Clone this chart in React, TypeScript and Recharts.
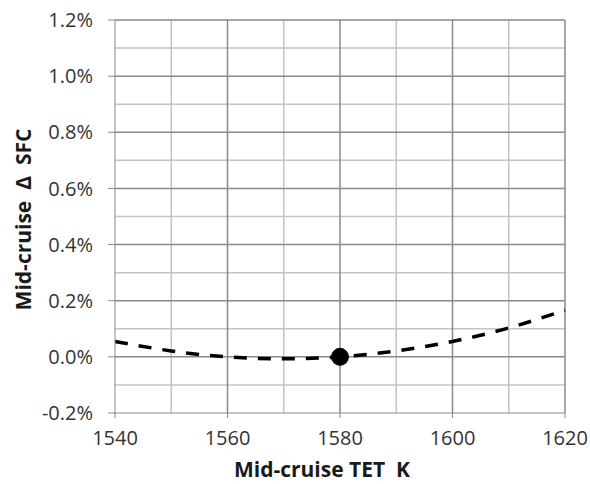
import React from "react";
import {
  LineChart,
  Line,
  XAxis,
  YAxis,
  ReferenceLine,
  ReferenceDot,
  Label,
} from "recharts";

// mid-cruise TET (K) vs change in SFC (%)
const tet = [1540, 1550, 1560, 1570, 1580, 1590, 1600, 1610, 1620];
const dSfc = [0.055, 0.021, 0.0, -0.007, 0.0, 0.021, 0.055, 0.103, 0.166];

const xTicks = [1540, 1560, 1580, 1600, 1620];
const xMinor = [1550, 1570, 1590, 1610];
const yTicks = [-0.2, 0, 0.2, 0.4, 0.6, 0.8, 1.0, 1.2];
const yMinor = [-0.1, 0.1, 0.3, 0.5, 0.7, 0.9, 1.1];

const designPoint = { x: 1580, y: 0 };

const data = tet.map((t, i) => ({ tet: t, sfc: dSfc[i] }));

const FONT = "'Open Sans', 'Liberation Sans', sans-serif";
const MAJOR = "#8a8a8a";
const MINOR = "#c4c4c4";

export default function App() {
  return (
    <div style={{ width: 590, height: 484 }}>
      <style>{`body{margin:0}`}</style>
      <LineChart
        width={590}
        height={484}
        data={data}
        margin={{ top: 20, right: 25, bottom: 41, left: 55 }}
        style={{ fontFamily: FONT }}
      >
        <XAxis
          dataKey="tet"
          type="number"
          domain={[1540, 1620]}
          ticks={xTicks}
          height={30}
          tickSize={5}
          tickMargin={13}
          stroke={MAJOR}
          tick={{ fill: "#333", fontSize: 20 }}
        >
          <Label
            content={(props: any) => {
              const vb = props.viewBox;
              return (
                <text
                  x={vb.x + vb.width / 2 - 18}
                  y={vb.y + 64}
                  textAnchor="middle"
                  fill="#1a1a1a"
                  fontSize={21}
                  fontWeight={700}
                  style={{ whiteSpace: "pre" }}
                >
                  {"Mid-cruise TET  K"}
                </text>
              );
            }}
          />
        </XAxis>
        <YAxis
          type="number"
          domain={[-0.2, 1.2]}
          ticks={yTicks}
          width={60}
          tickSize={7}
          tickMargin={15}
          stroke={MAJOR}
          tickFormatter={(v: number) => `${v.toFixed(1)}%`}
          tick={{ fill: "#333", fontSize: 20 }}
        >
          <Label
            content={(props: any) => {
              const vb = props.viewBox;
              const cx = 31;
              const cy = vb.y + vb.height / 2 + 3;
              return (
                <text
                  x={cx}
                  y={cy}
                  transform={`rotate(-90 ${cx} ${cy})`}
                  textAnchor="middle"
                  fill="#1a1a1a"
                  fontSize={21}
                  fontWeight={700}
                  style={{ whiteSpace: "pre" }}
                >
                  {"Mid-cruise  Δ  SFC"}
                </text>
              );
            }}
          />
        </YAxis>
        {yMinor.map((v) => (
          <ReferenceLine key={`ym${v}`} y={v} stroke={MINOR} strokeWidth={1.5} />
        ))}
        {xMinor.map((v) => (
          <ReferenceLine key={`xm${v}`} x={v} stroke={MINOR} strokeWidth={1.5} />
        ))}
        {yTicks.slice(1).map((v) => (
          <ReferenceLine key={`yM${v}`} y={v} stroke={MAJOR} strokeWidth={1.5} />
        ))}
        {xTicks.slice(1).map((v) => (
          <ReferenceLine key={`xM${v}`} x={v} stroke={MAJOR} strokeWidth={1.5} />
        ))}
        <Line
          type="natural"
          dataKey="sfc"
          stroke="#000"
          strokeWidth={3.5}
          strokeDasharray="13 11"
          dot={false}
          isAnimationActive={false}
        />
        <ReferenceDot x={designPoint.x} y={designPoint.y} r={8.5} fill="#000" stroke="#000" />
      </LineChart>
    </div>
  );
}
